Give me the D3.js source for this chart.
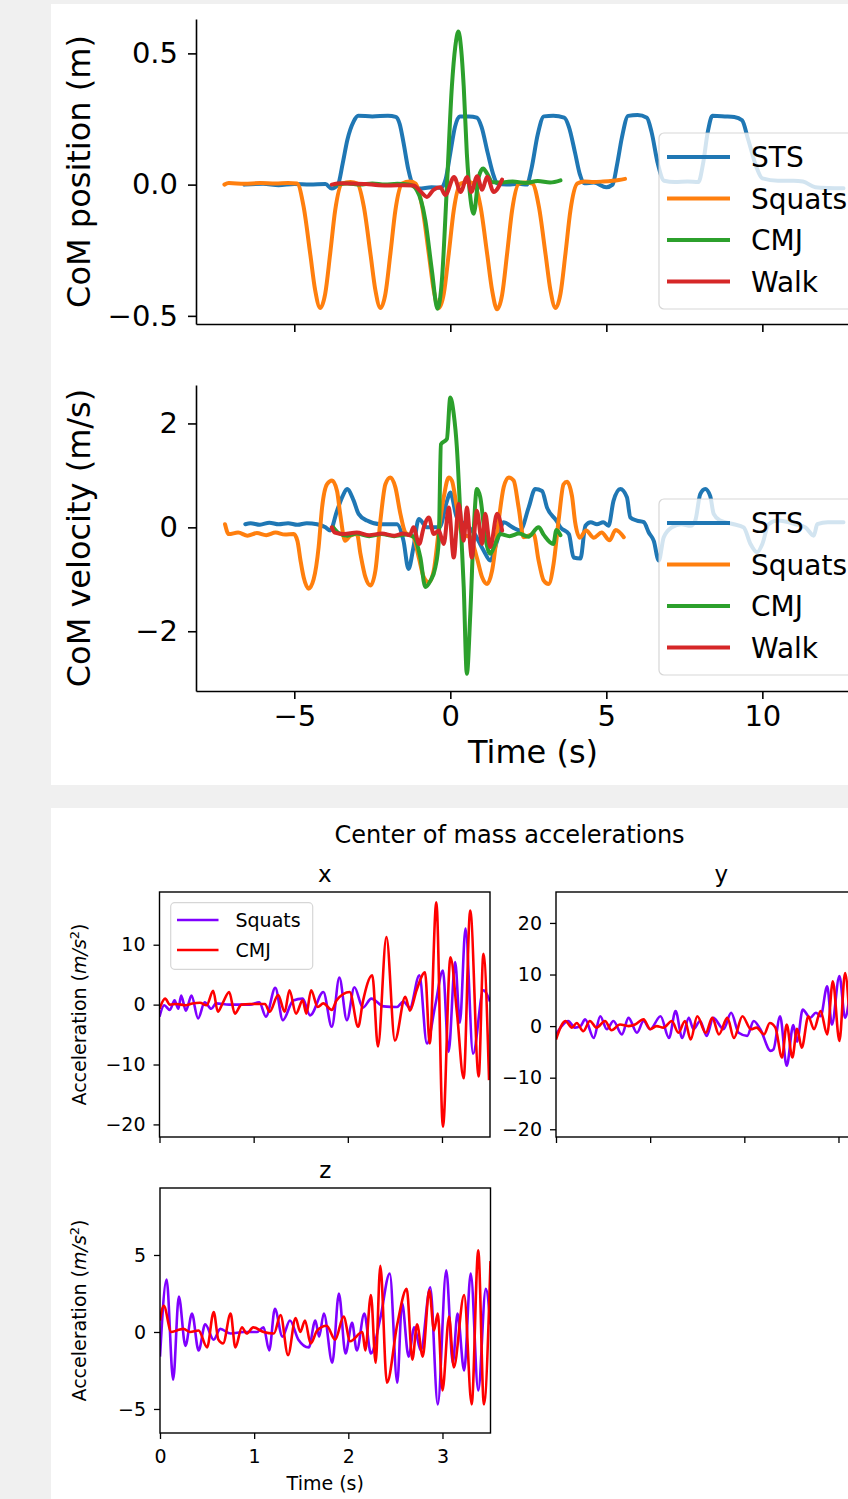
<!DOCTYPE html>
<html><head><meta charset="utf-8">
<script src="https://cdn.jsdelivr.net/npm/d3@7"></script>
<style>
html,body{margin:0;padding:0;background:#f0f0f0;}
svg{display:block;font-family:"DejaVu Sans",sans-serif;}
</style></head><body>
<svg id="chart" width="848" height="1499"></svg>
<script>
// ---------------- DATA ----------------
const seriesNames = ["STS","Squats","CMJ","Walk"];
const timeTicksTop = [-5,0,5,10];
const posTicks = [-0.5,0,0.5];
const velTicks = [-2,0,2];

const stsPos = [[-6.6,0.0],[-6.0,0.003],[-5.5,-0.002],[-5.0,0.002],[-4.5,0.0],[-4.0,0.002],[-3.8,-0.015],[-3.6,0.0],[-3.45,0.08],[-3.3,0.17],[-3.1,0.24],[-2.95,0.262],[-2.5,0.26],[-2.0,0.262],[-1.75,0.258],[-1.62,0.23],[-1.5,0.16],[-1.35,0.06],[-1.2,0.0],[-1.0,-0.015],[-0.6,-0.01],[-0.3,-0.012],[-0.15,0.02],[0.0,0.12],[0.15,0.22],[0.3,0.26],[0.6,0.26],[0.85,0.255],[1.0,0.22],[1.2,0.12],[1.4,0.03],[1.5,0.005],[1.8,0.0],[2.2,0.003],[2.45,0.0],[2.6,0.06],[2.8,0.19],[3.0,0.26],[3.3,0.262],[3.65,0.255],[3.8,0.22],[4.0,0.12],[4.15,0.04],[4.3,0.005],[4.6,0.008],[5.0,-0.01],[5.2,0.0],[5.35,0.08],[5.5,0.18],[5.7,0.262],[6.0,0.265],[6.3,0.255],[6.45,0.2],[6.65,0.08],[6.85,0.015],[7.2,0.01],[7.6,0.012],[7.95,0.01],[8.1,0.08],[8.25,0.2],[8.4,0.262],[8.8,0.26],[9.1,0.258],[9.35,0.245],[9.55,0.17],[9.8,0.07],[10.0,0.024],[10.5,0.015],[11.0,0.015],[11.3,0.012],[11.7,-0.01],[12.1,-0.013],[12.6,-0.014]];
const squatsPos = [[-7.24,0.0],[-7.1,0.006],[-6.6,0.003],[-6.1,0.006],[-5.6,0.004],[-5.2,0.006],[-4.91,0.004],[-4.70,-0.085],[-4.49,-0.263],[-4.33,-0.403],[-4.17,-0.47],[-4.01,-0.416],[-3.85,-0.263],[-3.69,-0.098],[-3.47,0.004],[-3.2,0.01],[-2.98,0.004],[-2.77,-0.085],[-2.56,-0.263],[-2.40,-0.403],[-2.24,-0.47],[-2.08,-0.416],[-1.92,-0.263],[-1.76,-0.098],[-1.54,0.004],[-1.3,0.012],[-1.11,0.004],[-0.90,-0.085],[-0.69,-0.263],[-0.53,-0.403],[-0.37,-0.47],[-0.21,-0.416],[-0.05,-0.263],[0.11,-0.098],[0.33,0.004],[0.55,0.01],[0.76,0.004],[0.97,-0.085],[1.18,-0.263],[1.34,-0.403],[1.50,-0.475],[1.66,-0.42],[1.82,-0.263],[1.98,-0.098],[2.20,0.004],[2.4,0.008],[2.63,0.004],[2.84,-0.085],[3.05,-0.263],[3.21,-0.403],[3.37,-0.47],[3.53,-0.416],[3.69,-0.263],[3.85,-0.098],[4.07,0.004],[4.3,0.012],[4.6,0.01],[4.9,0.012],[5.2,0.015],[5.4,0.018],[5.6,0.022]];
const cmjPos = [[-3.7,0.0],[-3.3,0.004],[-2.9,0.0],[-2.5,0.004],[-2.1,0.0],[-1.7,0.003],[-1.3,0.0],[-1.07,-0.022],[-0.8,-0.136],[-0.59,-0.327],[-0.41,-0.473],[-0.27,-0.365],[-0.11,-0.009],[0.05,0.373],[0.16,0.526],[0.26,0.583],[0.35,0.513],[0.43,0.373],[0.53,0.118],[0.64,-0.047],[0.75,-0.111],[0.91,0.029],[1.05,0.061],[1.18,0.042],[1.34,0.01],[1.6,0.008],[2.0,0.012],[2.4,0.006],[2.8,0.014],[3.2,0.008],[3.53,0.016]];
const walkPos = [[-3.8,0.0],[-3.5,0.005],[-3.1,0.004],[-2.7,0.002],[-2.3,-0.002],[-1.9,-0.003],[-1.5,-0.002],[-1.18,-0.003],[-0.96,-0.025],[-0.75,-0.047],[-0.54,-0.02],[-0.32,-0.01],[-0.16,-0.04],[0.12,0.029],[0.33,-0.028],[0.54,0.029],[0.67,-0.028],[0.86,0.032],[1.02,-0.02],[1.18,0.03],[1.39,-0.028],[1.66,0.019]];

const stsVel = [[-6.57,0.06],[-6.4,0.08],[-6.1,0.05],[-5.8,0.09],[-5.5,0.06],[-5.2,0.08],[-4.9,0.05],[-4.6,0.08],[-4.27,0.06],[-4.0,0.0],[-3.85,-0.06],[-3.63,0.32],[-3.45,0.6],[-3.31,0.74],[-3.1,0.52],[-2.94,0.26],[-2.67,0.13],[-2.24,0.06],[-1.71,0.06],[-1.5,-0.26],[-1.34,-0.8],[-1.18,-0.38],[-1.01,0.16],[-0.75,0.0],[-0.35,0.0],[-0.1,0.52],[0.0,0.67],[0.21,0.19],[0.5,0.05],[0.75,-0.1],[1.07,-0.45],[1.28,-0.64],[1.5,-0.26],[1.71,0.1],[2.0,0.0],[2.24,-0.06],[2.51,0.38],[2.72,0.74],[2.94,0.7],[3.1,0.38],[3.4,0.13],[3.53,0.0],[3.8,-0.13],[3.95,-0.58],[4.17,-0.6],[4.33,0.03],[4.5,0.1],[4.7,0.06],[4.9,0.1],[5.07,0.03],[5.23,0.51],[5.45,0.74],[5.66,0.58],[5.77,0.19],[5.98,0.13],[6.2,0.1],[6.36,-0.1],[6.52,-0.26],[6.68,-0.64],[6.84,-0.19],[7.1,0.0],[7.4,0.06],[7.7,0.03],[7.85,0.13],[8.01,0.64],[8.17,0.74],[8.33,0.6],[8.44,0.26],[8.65,0.13],[9.08,0.06],[9.4,0.0],[9.62,-0.32],[9.83,-0.48],[10.0,-0.32],[10.2,0.06],[10.5,0.13],[11.06,0.06],[11.38,0.0],[11.65,-0.16],[11.76,0.06],[12.1,0.1],[12.6,0.1]];
const squatsVel = [[-7.22,0.06],[-7.1,-0.13],[-6.8,-0.1],[-6.5,-0.16],[-6.2,-0.11],[-5.9,-0.15],[-5.6,-0.1],[-5.3,-0.14],[-5.02,-0.13],[-4.9,-0.26],[-4.8,-0.64],[-4.7,-0.96],[-4.54,-1.18],[-4.38,-1.0],[-4.22,-0.38],[-4.11,0.38],[-3.95,0.83],[-3.79,0.9],[-3.63,0.7],[-3.53,0.26],[-3.37,-0.26],[-3.2,-0.16],[-2.99,-0.13],[-2.88,-0.51],[-2.72,-0.96],[-2.56,-1.12],[-2.4,-0.83],[-2.24,0.13],[-2.08,0.83],[-1.92,0.96],[-1.76,0.77],[-1.6,0.26],[-1.44,-0.1],[-1.18,-0.19],[-1.01,-0.58],[-0.85,-0.96],[-0.69,-1.06],[-0.53,-0.83],[-0.37,-0.06],[-0.21,0.58],[-0.05,0.96],[0.05,0.9],[0.21,0.38],[0.37,-0.13],[0.64,-0.19],[0.85,-0.58],[1.02,-0.96],[1.18,-1.09],[1.34,-0.83],[1.55,0.13],[1.71,0.77],[1.87,0.96],[2.03,0.9],[2.19,0.38],[2.35,-0.19],[2.67,-0.13],[2.83,-0.64],[2.99,-1.02],[3.15,-1.09],[3.31,-0.7],[3.47,0.13],[3.63,0.83],[3.74,0.88],[3.9,0.6],[4.0,0.1],[4.15,-0.2],[4.35,-0.06],[4.6,-0.2],[4.85,-0.1],[5.1,-0.25],[5.3,-0.05],[5.56,-0.19]];
const cmjVel = [[-3.75,0.0],[-3.6,-0.1],[-3.3,-0.16],[-3.0,-0.12],[-2.6,-0.17],[-2.2,-0.13],[-1.8,-0.17],[-1.4,-0.14],[-1.18,-0.18],[-0.96,-0.58],[-0.8,-1.15],[-0.64,-1.03],[-0.48,-0.77],[-0.37,-0.26],[-0.3,1.6],[-0.11,1.7],[0.0,2.5],[0.11,2.18],[0.21,1.54],[0.32,0.26],[0.43,-1.15],[0.53,-2.82],[0.64,-1.67],[0.75,-0.06],[0.85,0.74],[0.96,0.58],[1.12,-0.19],[1.28,-0.51],[1.44,-0.32],[1.6,-0.13],[1.9,-0.17],[2.2,-0.12],[2.5,-0.18],[2.83,0.0],[3.0,-0.15],[3.3,-0.32],[3.4,-0.05],[3.53,-0.15]];
const walkVel = [[-3.8,0.0],[-3.7,-0.1],[-3.4,-0.13],[-3.0,-0.1],[-2.6,-0.15],[-2.2,-0.12],[-1.8,-0.16],[-1.5,-0.12],[-1.3,-0.15],[-1.18,0.0],[-1.0,-0.32],[-0.85,0.0],[-0.69,0.19],[-0.53,-0.13],[-0.37,-0.06],[-0.21,-0.32],[-0.05,0.38],[0.11,-0.58],[0.27,0.45],[0.43,-0.26],[0.53,0.38],[0.69,-0.58],[0.85,0.32],[1.02,-0.32],[1.12,0.26],[1.28,-0.38],[1.5,0.26],[1.66,-0.06]];

const accNames = ["Squats","CMJ"];
const accTimeTicks = [0,1,2,3];
const accXTicks = [-20,-10,0,10];
const accYTicks = [-20,-10,0,10,20];
const accZTicks = [-5,0,5];

const squatsAccX = [[0.00,-2.0],[0.05,-0.1],[0.11,-0.9],[0.16,0.7],[0.20,-0.7],[0.23,1.5],[0.28,-1.0],[0.34,1.5],[0.41,-2.3],[0.48,0.4],[0.55,-0.7],[0.60,0.2],[0.74,0.0],[0.96,0.0],[1.06,0.4],[1.13,-2.0],[1.23,2.8],[1.31,-2.6],[1.42,0.7],[1.52,1.0],[1.60,-1.8],[1.74,2.1],[1.83,-3.7],[1.91,4.5],[1.99,-2.6],[2.07,2.9],[2.16,-0.5],[2.25,1.0],[2.38,-0.3],[2.52,-0.4],[2.59,0.5],[2.66,-0.5],[2.76,4.9],[2.84,-6.5],[2.93,0.0],[3.01,5.7],[3.07,-7.9],[3.14,7.1],[3.19,-3.0],[3.25,12.7],[3.33,-8.2],[3.44,2.4],[3.51,0.5]];
const cmjAccX = [[0.00,-0.7],[0.06,1.0],[0.11,0.0],[0.18,0.1],[0.28,-0.1],[0.35,0.2],[0.43,0.3],[0.50,-0.1],[0.57,2.3],[0.62,-1.2],[0.67,0.2],[0.74,2.1],[0.80,-1.5],[0.87,0.0],[0.96,0.1],[1.12,0.1],[1.17,-1.2],[1.26,1.6],[1.33,-1.2],[1.38,2.4],[1.45,-1.5],[1.52,0.7],[1.56,-1.5],[1.61,2.4],[1.68,-0.4],[1.74,0.2],[1.83,-0.9],[1.88,0.7],[2.02,2.1],[2.11,-3.7],[2.16,0.5],[2.26,4.9],[2.32,-7.0],[2.41,11.3],[2.50,-6.0],[2.61,1.3],[2.66,-1.0],[2.73,2.4],[2.82,5.4],[2.87,-6.5],[2.94,17.1],[3.01,-20.4],[3.09,7.9],[3.16,-1.5],[3.23,-12.3],[3.30,15.7],[3.39,-12.0],[3.44,8.5],[3.50,-12.6]];
const squatsAccY = [[0.00,-1.6],[0.06,0.0],[0.13,1.0],[0.20,-0.3],[0.26,0.0],[0.31,1.3],[0.40,-2.3],[0.47,1.9],[0.54,-0.6],[0.61,1.0],[0.70,-1.6],[0.77,1.6],[0.86,-1.3],[0.93,1.0],[1.00,-0.6],[1.11,1.9],[1.20,-2.3],[1.27,2.9],[1.34,-2.3],[1.41,1.6],[1.46,-0.6],[1.53,1.0],[1.60,-1.9],[1.67,1.6],[1.78,-0.6],[1.86,2.6],[1.94,-1.3],[2.03,-1.9],[2.10,1.0],[2.17,-0.6],[2.28,-4.8],[2.31,-4.5],[2.38,1.9],[2.45,-7.7],[2.52,0.2],[2.56,-3.0],[2.62,3.2],[2.70,1.6],[2.76,2.6],[2.81,1.9],[2.88,7.7],[2.93,0.3],[3.01,9.7],[3.07,1.6],[3.15,8.0],[3.22,-3.0],[3.30,10.0],[3.40,-5.0],[3.51,6.0]];
const cmjAccY = [[0.00,-2.6],[0.10,1.0],[0.17,-0.3],[0.22,0.6],[0.29,-1.0],[0.36,1.0],[0.43,-0.3],[0.52,1.0],[0.59,-0.8],[0.68,0.3],[0.77,0.0],[0.84,0.3],[0.93,1.3],[1.00,-0.6],[1.07,0.0],[1.14,-0.3],[1.23,1.0],[1.30,-1.3],[1.37,1.0],[1.43,-2.6],[1.50,1.9],[1.59,-1.3],[1.66,1.6],[1.73,-1.6],[1.82,1.6],[1.89,-2.3],[1.98,1.9],[2.07,-0.6],[2.13,-0.3],[2.21,-1.6],[2.27,0.6],[2.33,-0.3],[2.40,-6.1],[2.45,0.3],[2.51,-6.1],[2.56,-0.5],[2.61,-4.2],[2.68,1.9],[2.74,-0.6],[2.81,2.9],[2.88,-1.6],[2.94,8.7],[3.01,-2.9],[3.07,10.3],[3.15,-3.0],[3.25,12.0],[3.35,-8.0],[3.45,9.0],[3.51,0.0]];
const squatsAccZ = [[0.00,-1.6],[0.07,3.4],[0.14,-3.1],[0.20,2.3],[0.27,-0.9],[0.34,1.2],[0.41,-1.2],[0.48,0.5],[0.57,-0.5],[0.64,0.2],[0.75,-0.1],[0.89,0.0],[1.03,0.0],[1.10,0.3],[1.16,-1.2],[1.22,1.5],[1.30,-0.3],[1.38,0.75],[1.47,-0.5],[1.58,-1.0],[1.65,0.75],[1.69,-0.3],[1.74,1.2],[1.83,-2.0],[1.90,2.5],[1.97,-1.4],[2.04,0.6],[2.09,-1.2],[2.17,1.2],[2.24,-1.4],[2.34,0.9],[2.44,3.8],[2.52,-3.3],[2.57,1.9],[2.64,-1.6],[2.70,0.3],[2.77,-1.2],[2.87,2.9],[2.95,-4.7],[3.04,4.0],[3.11,-2.0],[3.16,1.2],[3.23,-2.5],[3.30,3.8],[3.38,-3.8],[3.46,2.8],[3.51,0.5]];
const cmjAccZ = [[0.00,0.75],[0.04,1.7],[0.12,0.0],[0.18,0.1],[0.25,0.2],[0.32,0.0],[0.41,0.1],[0.50,-1.0],[0.57,1.3],[0.62,-0.5],[0.67,-0.75],[0.75,1.2],[0.80,-1.0],[0.87,0.3],[0.92,-0.1],[0.99,0.3],[1.10,0.0],[1.21,-0.1],[1.28,1.1],[1.36,-1.5],[1.44,0.9],[1.49,0.0],[1.54,0.75],[1.60,-0.75],[1.67,0.1],[1.77,0.4],[1.86,-0.5],[1.95,1.0],[2.02,-0.6],[2.15,0.0],[2.18,-1.2],[2.24,2.4],[2.29,-2.0],[2.34,4.3],[2.41,-3.3],[2.52,0.5],[2.62,2.8],[2.68,-1.8],[2.73,0.5],[2.79,-1.6],[2.86,2.7],[2.91,0.1],[2.95,1.2],[3.00,-3.8],[3.07,1.0],[3.12,-2.3],[3.23,2.4],[3.31,-4.7],[3.38,5.3],[3.44,-4.7],[3.51,4.6]];

// ---------------- STYLES ----------------
const topColors = ["#1f77b4","#ff7f0e","#2ca02c","#d62728"];
const accColors = ["#7f00ff","#ff0000"];
const minus = s => s.replace("-", "\u2212");

const svg = d3.select("#chart");
svg.append("rect").attr("width",848).attr("height",1499).attr("fill","#f0f0f0");
svg.append("rect").attr("x",51).attr("y",4).attr("width",797).attr("height",781).attr("fill","#fff");
svg.append("rect").attr("x",51).attr("y",808).attr("width",797).attr("height",691).attr("fill","#fff");

let clipId = 0;
function styleAxis(g, fs, sw) {
  g.attr("font-size", null).attr("font-family", null);
  g.selectAll(".domain").attr("stroke", "#000").attr("stroke-width", sw);
  g.selectAll(".tick line").attr("stroke", "#000").attr("stroke-width", sw);
  g.selectAll(".tick text").attr("fill", "#000").attr("font-size", fs);
}

// ---------- top figure ----------
function drawTop(o) {
  const x = d3.scaleLinear().domain([-8.15, 13.45]).range([196, 870]);
  const y = d3.scaleLinear().domain(o.yDomain).range([o.bottom, o.top]);
  const g = svg.append("g");
  const id = "clip" + (clipId++);
  g.append("clipPath").attr("id", id).append("rect")
    .attr("x", 196).attr("y", o.top).attr("width", 674).attr("height", o.bottom - o.top);
  const line = d3.line().x(d => x(d[0])).y(d => y(d[1])).curve(d3.curveMonotoneX);
  const lines = g.append("g").attr("clip-path", `url(#${id})`);
  o.series.forEach((s, i) => {
    lines.append("path").attr("d", line(s)).attr("fill", "none")
      .attr("stroke", topColors[i]).attr("stroke-width", 4)
      .attr("stroke-linejoin", "round").attr("stroke-linecap", "round");
  });
  const ay = g.append("g").attr("transform", "translate(196,0)")
    .call(d3.axisLeft(y).tickValues(o.ticks).tickFormat(o.fmt).tickSize(8).tickPadding(10).tickSizeOuter(0));
  styleAxis(ay, 29, 1.6);
  const ax = g.append("g").attr("transform", `translate(0,${o.bottom})`)
    .call(d3.axisBottom(x).tickValues(timeTicksTop).tickFormat(o.showX ? (d => minus(d3.format("d")(d))) : "").tickSize(8).tickPadding(6).tickSizeOuter(0));
  styleAxis(ax, 29, 1.6);
  g.append("text").attr("transform", `translate(90,${(o.top + o.bottom) / 2}) rotate(-90)`)
    .attr("text-anchor", "middle").attr("font-size", 32).attr("fill", "#000").text(o.ylabel);
  if (o.showX) {
    g.append("text").attr("x", 533).attr("y", o.bottom + 72).attr("text-anchor", "middle")
      .attr("font-size", 32).attr("fill", "#000").text("Time (s)");
  }
  // legend
  const lg = g.append("g");
  lg.append("rect").attr("x", 659).attr("y", o.legTop).attr("width", 198).attr("height", 176)
    .attr("rx", 5).attr("fill", "#fff").attr("fill-opacity", 0.8)
    .attr("stroke", "#cccccc").attr("stroke-opacity", 0.8).attr("stroke-width", 1.2);
  seriesNames.forEach((n, i) => {
    const yy = o.legTop + 24 + i * 41.5;
    lg.append("line").attr("x1", 667).attr("x2", 730).attr("y1", yy).attr("y2", yy)
      .attr("stroke", topColors[i]).attr("stroke-width", 4.2);
    lg.append("text").attr("x", 751).attr("y", yy + 10).attr("font-size", 28).attr("fill", "#000").text(n);
  });
}

drawTop({series: [stsPos, squatsPos, cmjPos, walkPos], yDomain: [-0.531, 0.631], top: 19, bottom: 324,
  ticks: posTicks, fmt: d => minus(d3.format(".1f")(d)), ylabel: "CoM position (m)", showX: false, legTop: 133});
drawTop({series: [stsVel, squatsVel, cmjVel, walkVel], yDomain: [-3.15, 2.74], top: 385, bottom: 691,
  ticks: velTicks, fmt: d => minus(d3.format("d")(d)), ylabel: "CoM velocity (m/s)", showX: true, legTop: 499});

// ---------- bottom figure ----------
svg.append("text").attr("x", 509.5).attr("y", 843).attr("text-anchor", "middle")
  .attr("font-size", 24).attr("fill", "#000").text("Center of mass accelerations");

function drawAcc(o) {
  const w = 330.5, h = 245;
  const x = d3.scaleLinear().domain([0, 3.51]).range([o.left, o.left + w]);
  const y = d3.scaleLinear().domain(o.yDomain).range([o.top + h, o.top]);
  const g = svg.append("g");
  const id = "clip" + (clipId++);
  g.append("clipPath").attr("id", id).append("rect")
    .attr("x", o.left).attr("y", o.top).attr("width", w).attr("height", h);
  const line = d3.line().x(d => x(d[0])).y(d => y(d[1])).curve(d3.curveMonotoneX);
  const lines = g.append("g").attr("clip-path", `url(#${id})`);
  o.series.forEach((s, i) => {
    lines.append("path").attr("d", line(s)).attr("fill", "none")
      .attr("stroke", accColors[i]).attr("stroke-width", 2.6).attr("stroke-linejoin", "round");
  });
  g.append("rect").attr("x", o.left).attr("y", o.top).attr("width", w).attr("height", h)
    .attr("fill", "none").attr("stroke", "#000").attr("stroke-width", 1.4);
  const ay = g.append("g").attr("transform", `translate(${o.left},0)`)
    .call(d3.axisLeft(y).tickValues(o.ticks).tickFormat(d => minus(d3.format("d")(d))).tickSize(6).tickPadding(8).tickSizeOuter(0));
  styleAxis(ay, 19, 1.3);
  ay.select(".domain").remove();
  const ax = g.append("g").attr("transform", `translate(0,${o.top + h})`)
    .call(d3.axisBottom(x).tickValues(accTimeTicks).tickFormat(o.showX ? d3.format("d") : "").tickSize(6).tickPadding(11).tickSizeOuter(0));
  styleAxis(ax, 19, 1.3);
  ax.select(".domain").remove();
  g.append("text").attr("x", o.left + w / 2).attr("y", o.top - 10).attr("text-anchor", "middle")
    .attr("font-size", 23).attr("fill", "#000").text(o.title);
  if (o.ylabel) {
    const t = g.append("text").attr("transform", `translate(${o.left - 74},${o.top + h / 2}) rotate(-90)`)
      .attr("text-anchor", "middle").attr("font-size", 19).attr("fill", "#000");
    t.append("tspan").text("Acceleration (");
    t.append("tspan").attr("font-style", "italic").text("m/s");
    t.append("tspan").attr("font-size", 13).attr("dy", -7).text("2");
    t.append("tspan").attr("dy", 7).text(")");
  }
  if (o.showX) {
    g.append("text").attr("x", o.left + w / 2).attr("y", o.top + h + 57).attr("text-anchor", "middle")
      .attr("font-size", 19).attr("fill", "#000").text("Time (s)");
  }
  if (o.legend) {
    const lg = g.append("g");
    lg.append("rect").attr("x", 170.7).attr("y", 902.7).attr("width", 142).attr("height", 66.6)
      .attr("rx", 4).attr("fill", "#fff").attr("fill-opacity", 0.8)
      .attr("stroke", "#cccccc").attr("stroke-opacity", 0.8).attr("stroke-width", 1.2);
    accNames.forEach((n, i) => {
      const yy = 920 + i * 30;
      lg.append("line").attr("x1", 177).attr("x2", 218.5).attr("y1", yy).attr("y2", yy)
        .attr("stroke", accColors[i]).attr("stroke-width", 2.6);
      lg.append("text").attr("x", 235.5).attr("y", yy + 7).attr("font-size", 19).attr("fill", "#000").text(n);
    });
  }
}

drawAcc({left: 159.5, top: 892, yDomain: [-22.1, 18.8], ticks: accXTicks, series: [squatsAccX, cmjAccX], title: "x", ylabel: true, showX: false, legend: true});
drawAcc({left: 556, top: 892, yDomain: [-21.5, 26], ticks: accYTicks, series: [squatsAccY, cmjAccY], title: "y", ylabel: false, showX: false, legend: false});
drawAcc({left: 160, top: 1188, yDomain: [-6.56, 9.35], ticks: accZTicks, series: [squatsAccZ, cmjAccZ], title: "z", ylabel: true, showX: true, legend: false});
</script></body></html>
